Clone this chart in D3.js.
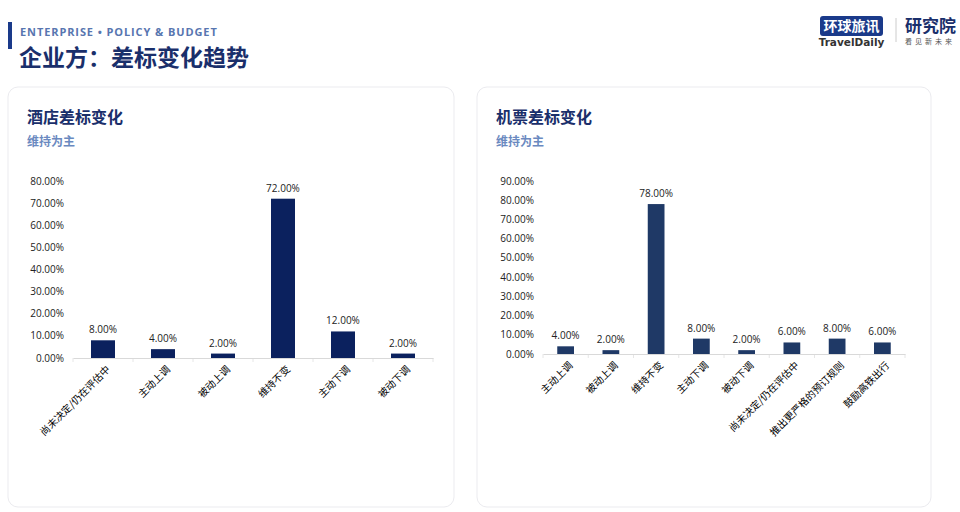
<!DOCTYPE html>
<html>
<head>
<meta charset="utf-8">
<script src="https://cdn.jsdelivr.net/npm/d3@7"></script>
<style>
  body { margin: 0; background: #fff; }
  svg { display: block; font-family: "Noto Sans CJK SC", "Noto Sans", sans-serif; }
</style>
</head>
<body>
<svg id="chart" width="960" height="512"></svg>
<script>
// hotel chart data
const hotelCategories = ["尚未决定/仍在评估中", "主动上调", "被动上调", "维持不变", "主动下调", "被动下调"];
const hotelValues = [8, 4, 2, 72, 12, 2];
const hotelTicks = [0, 10, 20, 30, 40, 50, 60, 70, 80];

// air ticket chart data
const airCategories = ["主动上调", "被动上调", "维持不变", "主动下调", "被动下调", "尚未决定/仍在评估中", "推出更严格的预订规则", "鼓励高铁出行"];
const airValues = [4, 2, 78, 8, 2, 6, 8, 6];
const airTicks = [0, 10, 20, 30, 40, 50, 60, 70, 80, 90];

const svg = d3.select('#chart');
const navy = "#1a2f6b";

// header
svg.append("rect").attr("x", 8).attr("y", 22).attr("width", 4).attr("height", 27).attr("fill", "#1a3a8a");
svg.append("text").attr("x", 20).attr("y", 36)
  .attr("font-size", 11).attr("font-weight", "bold").attr("letter-spacing", 0.9)
  .attr("fill", "#5876b0").attr("font-family", "'Open Sans', sans-serif")
  .text("ENTERPRISE • POLICY & BUDGET");
svg.append("text").attr("x", 19).attr("y", 66)
  .attr("font-size", 23).attr("font-weight", "bold").attr("fill", navy)
  .text("企业方：差标变化趋势");

// logo
svg.append("rect").attr("x", 820).attr("y", 16).attr("width", 63).attr("height", 20).attr("rx", 3).attr("fill", "#1a3a8a");
svg.append("text").attr("x", 851.5).attr("y", 31).attr("text-anchor", "middle")
  .attr("font-size", 14).attr("font-weight", "bold").attr("fill", "#fff").text("环球旅讯");
svg.append("text").attr("x", 851.5).attr("y", 46).attr("text-anchor", "middle")
  .attr("font-size", 10.5).attr("font-weight", "bold").attr("fill", "#333")
  .attr("font-family", "'DejaVu Sans', sans-serif").text("TravelDaily");
svg.append("line").attr("x1", 896).attr("x2", 896).attr("y1", 18).attr("y2", 42).attr("stroke", "#ccc");
svg.append("text").attr("x", 905).attr("y", 32)
  .attr("font-size", 17).attr("font-weight", "bold").attr("fill", navy).text("研究院");
svg.append("text").attr("x", 905).attr("y", 44)
  .attr("font-size", 7).attr("letter-spacing", 3).attr("fill", "#555").text("看见新未来");

function drawCard(opt) {
  const g = svg.append("g");
  g.append("rect").attr("x", opt.x).attr("y", 87).attr("width", opt.w).attr("height", 420)
    .attr("rx", 10).attr("fill", "#fff").attr("stroke", "#ebebef");
  g.append("text").attr("x", opt.x + 19).attr("y", 123)
    .attr("font-size", 16).attr("font-weight", "bold").attr("fill", navy).text(opt.title);
  g.append("text").attr("x", opt.x + 19).attr("y", 146)
    .attr("font-size", 12).attr("font-weight", "bold").attr("fill", "#6a89c0").text(opt.sub);

  const x = d3.scaleBand().domain(opt.categories).range([opt.left, opt.right]).paddingInner(opt.pad).paddingOuter(opt.pad / 2);
  const y = d3.scaleLinear().domain([0, opt.max]).range([opt.bottom, opt.top]);
  const step = x.step();

  // y axis labels
  g.selectAll(".ytick").data(opt.ticks).join("text")
    .attr("x", opt.left - 9).attr("y", d => y(d)).attr("dy", "0.35em")
    .attr("text-anchor", "end").attr("font-size", 10).attr("fill", "#222")
    .attr("font-family", "'Open Sans', sans-serif")
    .text(d => d.toFixed(2) + "%");

  // faint separators between categories
  g.selectAll(".sep").data(d3.range(opt.categories.length + 1)).join("line")
    .attr("x1", i => opt.left + i * step).attr("x2", i => opt.left + i * step)
    .attr("y1", opt.bottom).attr("y2", opt.bottom + 4)
    .attr("stroke", "#e6e6e6");

  // x axis
  const xAxis = g.append("g").attr("transform", `translate(0,${opt.bottom})`)
    .call(d3.axisBottom(x).tickSize(0).tickPadding(8));
  xAxis.select(".domain").attr("stroke", "#d9d9d9");
  xAxis.selectAll("text")
    .attr("font-size", 10).attr("fill", "#000")
    .attr("font-family", "'Noto Sans CJK SC', sans-serif")
    .attr("text-anchor", "end")
    .attr("transform", "rotate(-45)")
    .attr("dx", "-0.3em").attr("dy", "0.6em");

  // bars
  g.selectAll(".bar").data(opt.values).join("rect")
    .attr("x", (d, i) => x(opt.categories[i]))
    .attr("y", d => y(d))
    .attr("width", x.bandwidth())
    .attr("height", d => opt.bottom - y(d))
    .attr("fill", opt.color);

  g.selectAll(".val").data(opt.values).join("text")
    .attr("x", (d, i) => x(opt.categories[i]) + x.bandwidth() / 2)
    .attr("y", d => y(d) - 7)
    .attr("text-anchor", "middle").attr("font-size", 10).attr("fill", "#222")
    .attr("font-family", "'Open Sans', sans-serif")
    .text(d => d.toFixed(2) + "%");
}

drawCard({
  x: 8, w: 446, title: "酒店差标变化", sub: "维持为主",
  categories: hotelCategories, values: hotelValues, ticks: hotelTicks,
  left: 73, right: 433, top: 181, bottom: 358, max: 80, pad: 0.6, color: "#0b215e"
});

drawCard({
  x: 477, w: 454, title: "机票差标变化", sub: "维持为主",
  categories: airCategories, values: airValues, ticks: airTicks,
  left: 543, right: 905, top: 181, bottom: 354, max: 90, pad: 0.63, color: "#1f3966"
});
</script>
</body>
</html>
